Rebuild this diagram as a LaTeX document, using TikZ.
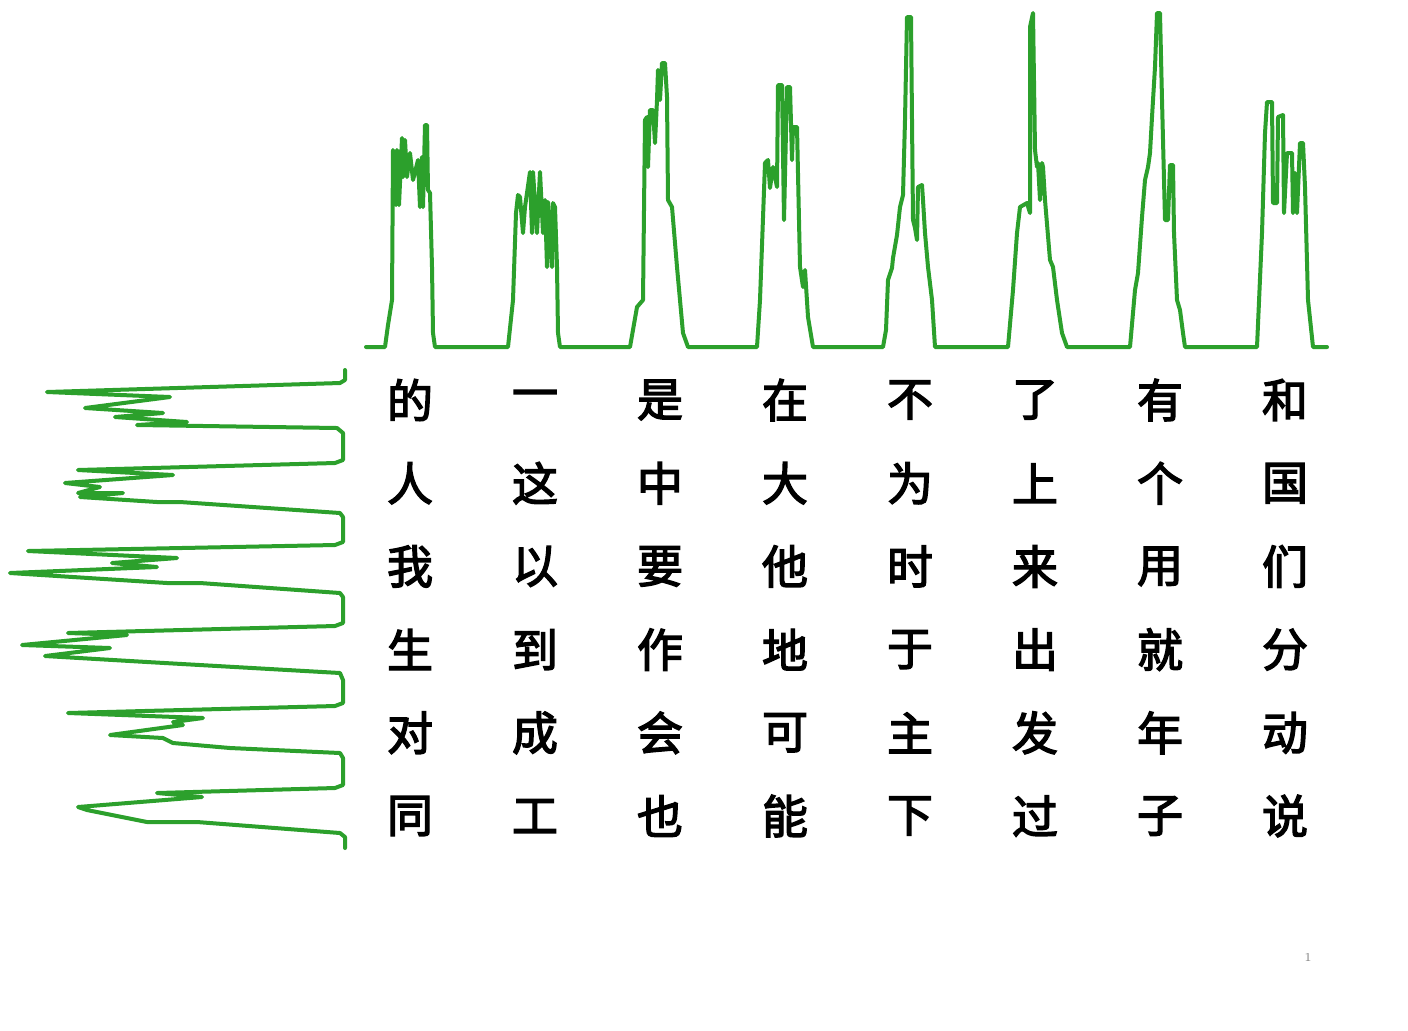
\documentclass[tikz,border=0pt]{standalone}
\usepackage{fontspec}
\newfontfamily\cjk{Noto Sans CJK SC}[FakeBold=3]
\definecolor{profgreen}{HTML}{2CA02C}
\begin{document}
\begin{tikzpicture}[x=0.5pt,y=-0.5pt,
  profile/.style={draw=profgreen,line width=2pt,line join=round,line cap=round},
  glyph/.style={inner sep=0pt,font=\cjk\fontsize{23pt}{23pt}\selectfont,text=black}]
\useasboundingbox[fill=white] (0,0) rectangle (1408,1030);
% horizontal projection profile (top)
\draw[profile] (366,347) -- (385,347) -- (388,325) -- (392,300) -- (393,150) -- (396,205) -- (397,150) -- (399,205) -- (402,138) -- (403,177) -- (405,140) -- (407,177) -- (410,153) -- (413,180) -- (418,160) -- (420,207) -- (422,157) -- (423,207) -- (425,125) -- (427,125) -- (428,190) -- (430,193) -- (432,267) -- (433,333) -- (435,347)
 -- (508,347) -- (513,300) -- (516,213) -- (518,195) -- (520,197) -- (523,233) -- (525,207) -- (530,172) -- (532,233) -- (533,172) -- (537,233) -- (540,172) -- (543,233) -- (545,200) -- (547,267) -- (548,202) -- (552,267) -- (553,203) -- (555,207) -- (557,267) -- (558,333) -- (560,347)
 -- (630,347) -- (637,307) -- (643,300) -- (645,120) -- (647,117) -- (648,167) -- (650,110) -- (653,110) -- (655,143) -- (657,100) -- (658,70) -- (660,100) -- (662,63) -- (665,63) -- (667,97) -- (668,200) -- (672,207) -- (677,267) -- (683,333) -- (688,347)
 -- (757,347) -- (760,300) -- (765,163) -- (768,160) -- (770,188) -- (773,167) -- (777,187) -- (778,85) -- (782,85) -- (784,220) -- (787,87) -- (790,87) -- (792,160) -- (793,127) -- (797,127) -- (800,267) -- (803,287) -- (805,270) -- (808,317) -- (813,347)
 -- (883,347) -- (886,330) -- (888,280) -- (892,268) -- (893,258) -- (897,235) -- (900,207) -- (903,195) -- (905,120) -- (907,17) -- (911,17) -- (912,120) -- (913,220) -- (915,228) -- (917,240) -- (918,187) -- (922,185) -- (923,200) -- (925,233) -- (928,267) -- (932,300) -- (935,347)
 -- (1008,347) -- (1013,290) -- (1017,233) -- (1020,207) -- (1027,203) -- (1030,213) -- (1030,27) -- (1033,13) -- (1035,150) -- (1037,167) -- (1038,163) -- (1040,200) -- (1042,163) -- (1043,167) -- (1045,200) -- (1050,260) -- (1053,267) -- (1057,300) -- (1062,333) -- (1067,347)
 -- (1130,347) -- (1135,290) -- (1138,273) -- (1142,217) -- (1145,180) -- (1148,167) -- (1150,153) -- (1152,117) -- (1155,67) -- (1157,13) -- (1160,13) -- (1162,100) -- (1165,220) -- (1168,220) -- (1170,165) -- (1173,165) -- (1174,233) -- (1177,300) -- (1180,310) -- (1183,333) -- (1185,347)
 -- (1257,347) -- (1262,233) -- (1265,133) -- (1267,102) -- (1272,102) -- (1273,203) -- (1277,203) -- (1278,117) -- (1283,115) -- (1284,213) -- (1287,153) -- (1292,153) -- (1293,213) -- (1295,173) -- (1297,213) -- (1300,143) -- (1303,143) -- (1305,187) -- (1308,300) -- (1313,347) -- (1327,347);
% vertical projection profile (left)
\draw[profile] (345,370) -- (345,380) -- (340,383) -- (47,392) -- (170,397) -- (85,408) -- (163,413) -- (115,417) -- (187,422) -- (137,425) -- (337,428) -- (343,433) -- (343,460) -- (335,463) -- (78,470) -- (173,475) -- (65,483) -- (100,487) -- (78,493) -- (123,493) -- (80,497) -- (157,502) -- (180,502) -- (340,513) -- (343,517) -- (343,542) -- (335,545) -- (28,551) -- (177,558) -- (112,563) -- (157,567) -- (10,573) -- (167,583) -- (200,583) -- (340,593) -- (343,597) -- (343,623) -- (335,626) -- (68,633) -- (127,635) -- (22,645) -- (110,648) -- (45,656) -- (147,662) -- (340,673) -- (343,680) -- (343,703) -- (335,706) -- (68,713) -- (203,718) -- (173,722) -- (183,725) -- (110,735) -- (163,738) -- (173,743) -- (230,748) -- (340,753) -- (343,758) -- (343,785) -- (335,788) -- (157,793) -- (202,797) -- (78,807) -- (87,810) -- (147,822) -- (197,822) -- (340,833) -- (345,837) -- (345,848);
% character grid
\foreach \row [count=\r] in {{的,一,是,在,不,了,有,和},{人,这,中,大,为,上,个,国},{我,以,要,他,时,来,用,们},{生,到,作,地,于,出,就,分},{对,成,会,可,主,发,年,动},{同,工,也,能,下,过,子,说}}{
  \foreach \ch [count=\c] in \row {
    \node[glyph] (ch-\r-\c) at ({410+125*(\c-1)},{400+83.2*(\r-1)}) {\ch};
  }
}
\node[inner sep=0pt,font=\fontsize{6pt}{6pt}\selectfont,text=gray] (pagenum) at (1308,957) {1};
\end{tikzpicture}
\end{document}
